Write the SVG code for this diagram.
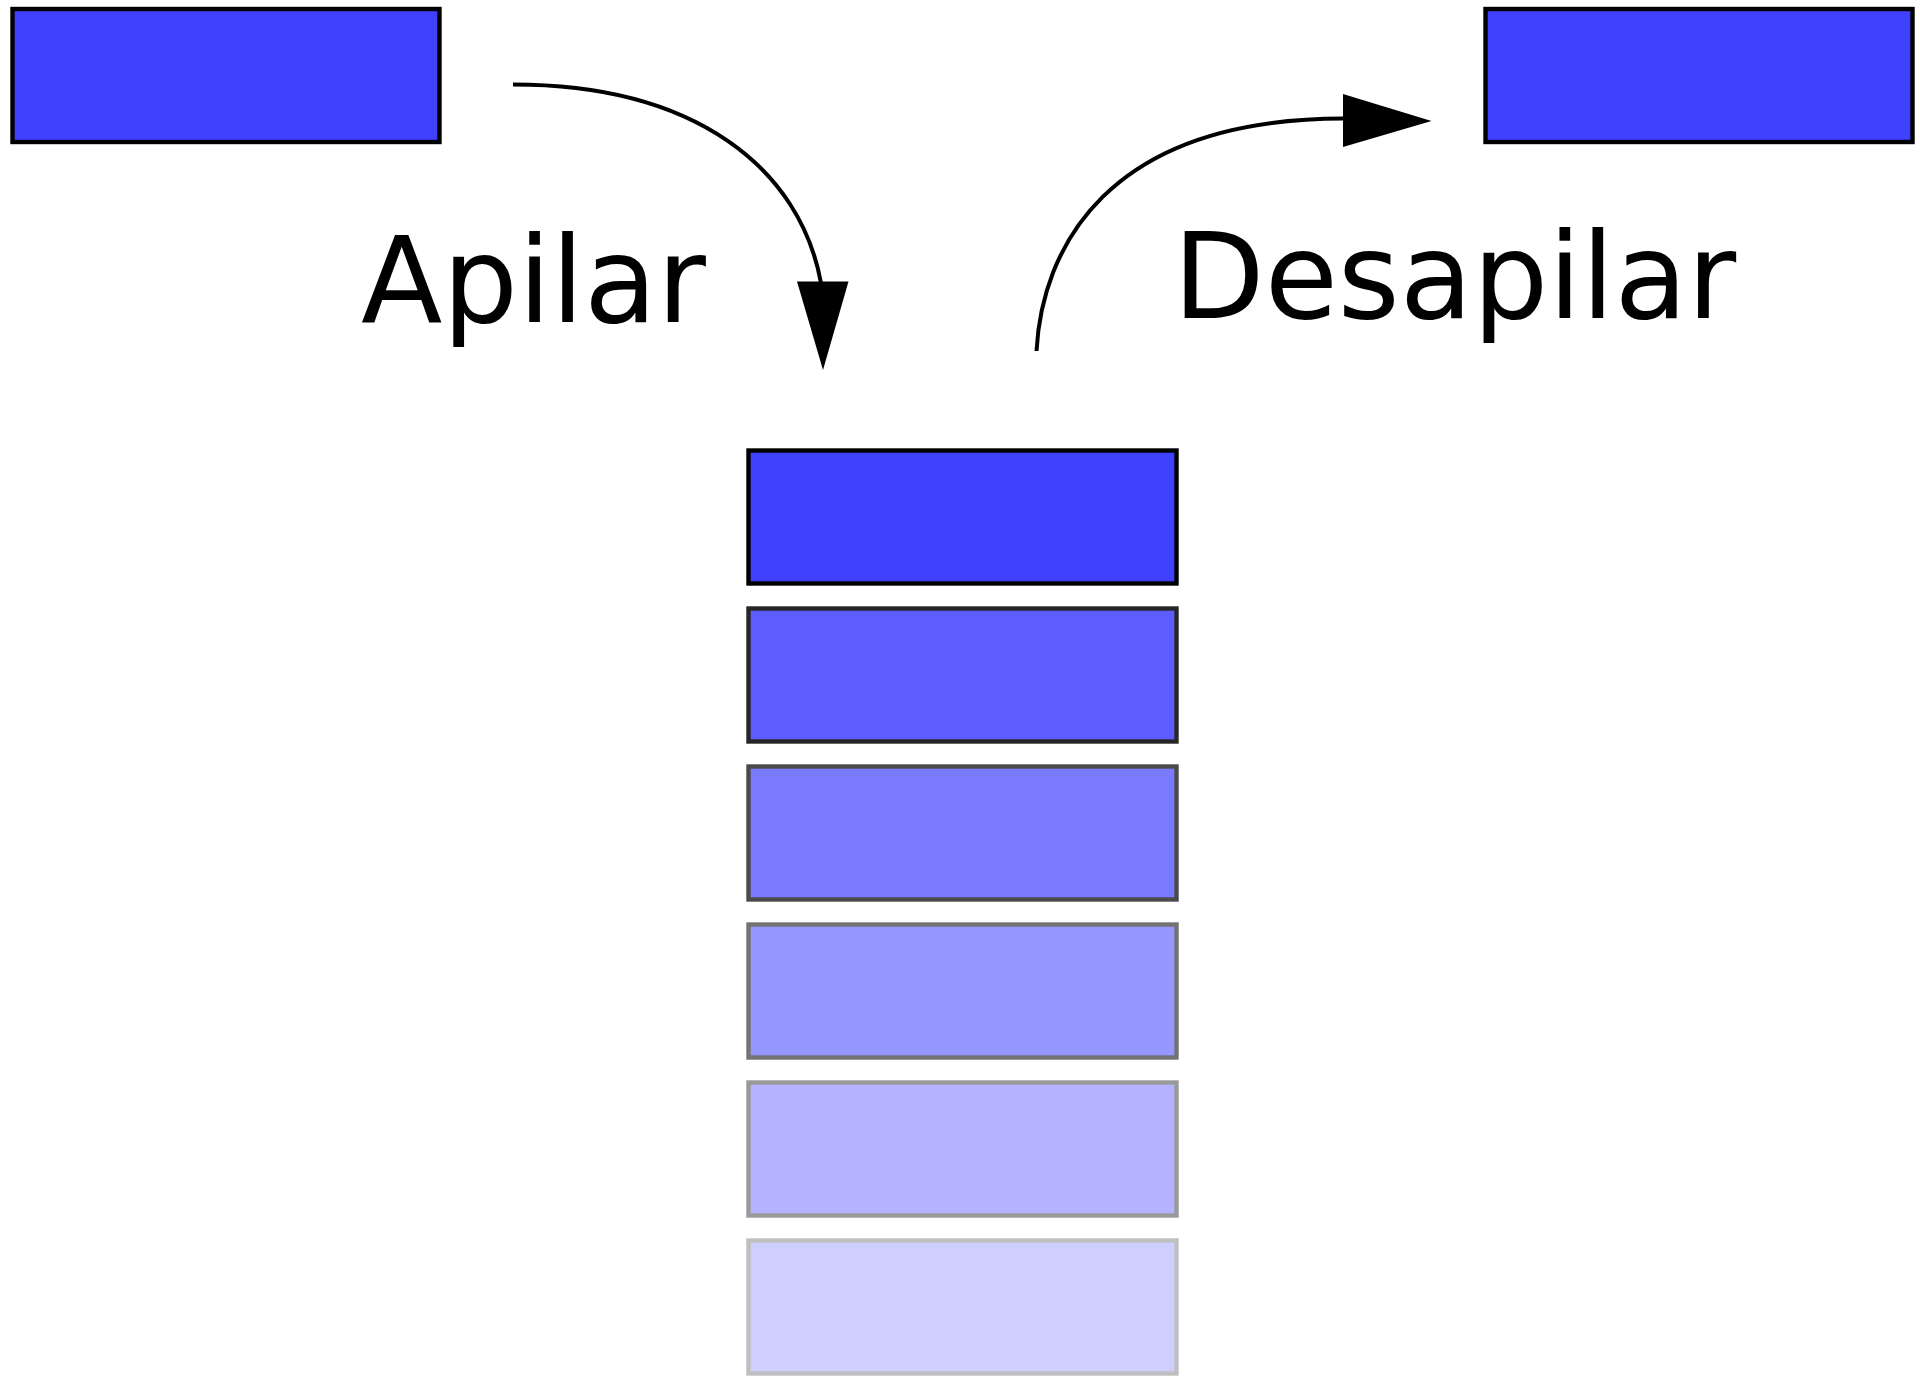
<svg xmlns="http://www.w3.org/2000/svg" width="1920" height="1380" viewBox="0 0 1920 1380">
<style>
.box{stroke-width:4.4}
.lbl{font-family:"DejaVu Sans",sans-serif;font-size:119px;fill:#000}
.conn{fill:none;stroke:#000;stroke-width:4}
.head{fill:#000;stroke:none}
</style>
<rect x="0" y="0" width="1920" height="1380" fill="#fff"/>
<g id="item-left"><rect class="box" x="12.5" y="9" width="427" height="133" fill="#4040ff" stroke="#000"/></g>
<g id="item-right"><rect class="box" x="1485.5" y="9" width="427" height="133" fill="#4040ff" stroke="#000"/></g>
<g id="stack-1"><rect class="box" x="748.5" y="450.5" width="428" height="133" fill="#4040ff" stroke="#000"/></g>
<g id="stack-2"><rect class="box" x="748.5" y="608.5" width="428" height="133" fill="#5c5cff" stroke="#262626"/></g>
<g id="stack-3"><rect class="box" x="748.5" y="766.5" width="428" height="133" fill="#7a7aff" stroke="#4a4a4a"/></g>
<g id="stack-4"><rect class="box" x="748.5" y="924.5" width="428" height="133" fill="#9696ff" stroke="#737373"/></g>
<g id="stack-5"><rect class="box" x="748.5" y="1082.5" width="428" height="133" fill="#b3b3ff" stroke="#999999"/></g>
<g id="stack-6"><rect class="box" x="748.5" y="1240.5" width="428" height="133" fill="#cfcfff" stroke="#bfbfbf"/></g>
<g id="connectors">
<path class="conn" d="M513,84.5 C695,84.5 800,168 821,283"/>
<polygon class="head" points="797,281.5 848.5,281.5 823,370"/>
<path class="conn" d="M1036.5,351 C1042,250 1105,118.5 1344,118.5"/>
<polygon class="head" points="1343,94 1343,147 1431.5,121"/>
</g>
<g id="labels">
<text class="lbl" x="361" y="322">Apilar</text>
<text class="lbl" x="1173" y="318">Desapilar</text>
</g>
</svg>
